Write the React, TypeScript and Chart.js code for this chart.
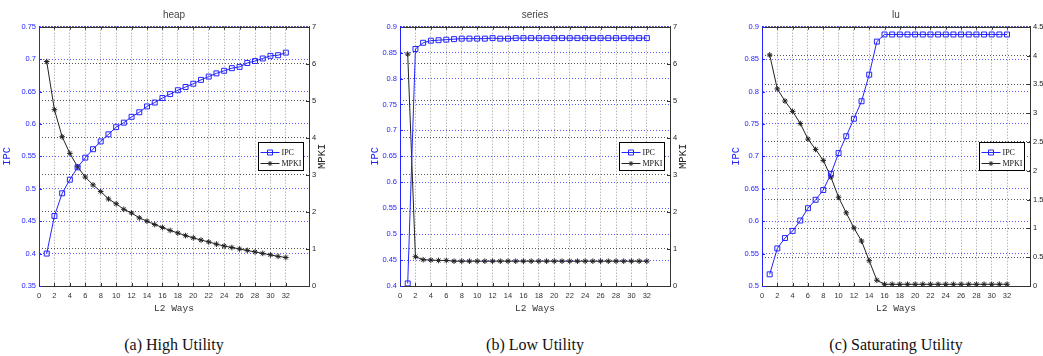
import React, { useEffect, useRef } from "react";
import { Chart, registerables } from "chart.js";
Chart.register(...registerables);

const ways = [1, 2, 3, 4, 5, 6, 7, 8, 9, 10, 11, 12, 13, 14, 15, 16, 17, 18, 19, 20, 21, 22, 23, 24, 25, 26, 27, 28, 29, 30, 31, 32];
const xTickValues = [0, 2, 4, 6, 8, 10, 12, 14, 16, 18, 20, 22, 24, 26, 28, 30, 32];

const heapIPC = [0.4, 0.458, 0.493, 0.514, 0.533, 0.548, 0.561, 0.573, 0.584, 0.595, 0.602, 0.611, 0.618, 0.627, 0.633, 0.64, 0.646, 0.652, 0.657, 0.662, 0.668, 0.673, 0.678, 0.682, 0.686, 0.688, 0.694, 0.697, 0.701, 0.705, 0.706, 0.71];
const heapMPKI = [6.06, 4.76, 4.03, 3.58, 3.22, 2.94, 2.73, 2.55, 2.35, 2.22, 2.07, 1.97, 1.84, 1.75, 1.66, 1.58, 1.5, 1.43, 1.36, 1.3, 1.24, 1.19, 1.13, 1.08, 1.04, 1.0, 0.96, 0.92, 0.88, 0.84, 0.8, 0.77];

const seriesIPC = [0.405, 0.857, 0.869, 0.873, 0.874, 0.875, 0.876, 0.877, 0.877, 0.877, 0.877, 0.878, 0.877, 0.877, 0.878, 0.878, 0.878, 0.878, 0.878, 0.878, 0.878, 0.878, 0.878, 0.878, 0.878, 0.878, 0.878, 0.878, 0.878, 0.878, 0.878, 0.878];
const seriesMPKI = [6.26, 0.79, 0.71, 0.7, 0.69, 0.69, 0.67, 0.67, 0.67, 0.67, 0.67, 0.67, 0.67, 0.67, 0.67, 0.67, 0.67, 0.67, 0.67, 0.67, 0.67, 0.67, 0.67, 0.67, 0.67, 0.67, 0.67, 0.67, 0.67, 0.67, 0.67, 0.67];

const luIPC = [0.518, 0.558, 0.574, 0.585, 0.601, 0.62, 0.633, 0.648, 0.673, 0.705, 0.731, 0.758, 0.785, 0.826, 0.877, 0.888, 0.888, 0.888, 0.888, 0.888, 0.888, 0.888, 0.888, 0.888, 0.888, 0.888, 0.888, 0.888, 0.888, 0.888, 0.888, 0.888];
const luMPKI = [4.01, 3.42, 3.21, 3.03, 2.82, 2.55, 2.37, 2.18, 1.89, 1.54, 1.27, 1.01, 0.78, 0.44, 0.1, 0.03, 0.03, 0.03, 0.03, 0.03, 0.03, 0.03, 0.03, 0.03, 0.03, 0.03, 0.03, 0.03, 0.03, 0.03, 0.03, 0.03];

const titles = ["heap", "series", "lu"];
const captions = ["(a) High Utility", "(b) Low Utility", "(c) Saturating Utility"];
const ipcRanges = [[0.35, 0.75, 0.05], [0.4, 0.9, 0.05], [0.5, 0.9, 0.05]];
const mpkiRanges = [[0, 7, 1], [0, 7, 1], [0, 4.5, 0.5]];

const BLUE = "#2424ff";
const BLACK = "#222222";
const CANVAS_H = 322;

const layouts = [
  { canvasLeft: 0, canvasWidth: 345, areaLeft: 39, areaRight: 309, ipcTitleX: 7 },
  { canvasLeft: 350, canvasWidth: 345, areaLeft: 50, areaRight: 320, ipcTitleX: 25 },
  { canvasLeft: 700, canvasWidth: 343, areaLeft: 62, areaRight: 330, ipcTitleX: 36 },
];

const fmt = (v: number) => String(Math.round(v * 1000) / 1000);

const decorPlugin = {
  id: "decor",
  afterDraw(chart: any, _args: any, opts: any) {
    const { ctx, chartArea } = chart;
    const { left, right, top, bottom } = chartArea;
    const xs = chart.scales.x;
    const ys = chart.scales.y;
    const y1 = chart.scales.y1;
    ctx.save();
    ctx.lineWidth = 1;
    // top border
    ctx.strokeStyle = "#333";
    ctx.beginPath();
    ctx.moveTo(left, Math.round(top) + 0.5);
    ctx.lineTo(right, Math.round(top) + 0.5);
    ctx.stroke();
    // inward tick marks
    ctx.beginPath();
    xs.ticks.forEach((t: any) => {
      const px = Math.round(xs.getPixelForValue(t.value)) + 0.5;
      ctx.moveTo(px, bottom);
      ctx.lineTo(px, bottom - 3);
      ctx.moveTo(px, top);
      ctx.lineTo(px, top + 3);
    });
    y1.ticks.forEach((t: any) => {
      const py = Math.round(y1.getPixelForValue(t.value)) + 0.5;
      ctx.moveTo(right, py);
      ctx.lineTo(right - 3, py);
    });
    ctx.stroke();
    ctx.strokeStyle = BLUE;
    ctx.beginPath();
    ys.ticks.forEach((t: any) => {
      const py = Math.round(ys.getPixelForValue(t.value)) + 0.5;
      ctx.moveTo(left, py);
      ctx.lineTo(left + 3, py);
    });
    ctx.stroke();
    // right axis title (reads bottom-to-top)
    const tx = right + 13;
    if (tx + 4 < chart.width) {
      ctx.save();
      ctx.translate(tx, (top + bottom) / 2);
      ctx.rotate(-Math.PI / 2);
      ctx.font = "10.5px 'Liberation Mono'";
      ctx.fillStyle = BLACK;
      ctx.textAlign = "center";
      ctx.textBaseline = "middle";
      ctx.fillText(opts.rightTitle, 0, 0);
      ctx.restore();
    }
    // legend box
    const bw = 45;
    const bh = 28;
    const bx = Math.round(right - 6 - bw) + 0.5;
    const by = Math.round((top + bottom) / 2 - bh / 2) + 0.5;
    ctx.fillStyle = "#fff";
    ctx.fillRect(bx, by, bw, bh);
    ctx.strokeStyle = "#000";
    ctx.strokeRect(bx, by, bw, bh);
    const rows = [by + 9, by + 20];
    chart.data.datasets.forEach((ds: any, i: number) => {
      const ry = Math.round(rows[i]) + 0.5;
      const color = ds.borderColor;
      ctx.strokeStyle = color;
      ctx.lineWidth = 1;
      ctx.beginPath();
      ctx.moveTo(bx + 2, ry);
      ctx.lineTo(bx + 21, ry);
      ctx.stroke();
      const mx = bx + 11.5;
      ctx.beginPath();
      if (ds.pointStyle === "rect") {
        ctx.rect(mx - 2.5, ry - 2.5, 5, 5);
      } else {
        const r = 2.5;
        ctx.moveTo(mx - r, ry); ctx.lineTo(mx + r, ry);
        ctx.moveTo(mx, ry - r); ctx.lineTo(mx, ry + r);
        ctx.moveTo(mx - r * 0.7, ry - r * 0.7); ctx.lineTo(mx + r * 0.7, ry + r * 0.7);
        ctx.moveTo(mx - r * 0.7, ry + r * 0.7); ctx.lineTo(mx + r * 0.7, ry - r * 0.7);
      }
      ctx.stroke();
      ctx.fillStyle = "#111";
      ctx.font = "8px 'Liberation Serif'";
      ctx.textAlign = "left";
      ctx.textBaseline = "middle";
      ctx.fillText(ds.label, bx + 23, ry);
    });
    ctx.restore();
  },
};

function Panel({ idx }: { idx: number }) {
  const ref = useRef<HTMLCanvasElement | null>(null);
  const L = layouts[idx];
  useEffect(() => {
    if (!ref.current) return;
    const ipc = [heapIPC, seriesIPC, luIPC][idx];
    const mpki = [heapMPKI, seriesMPKI, luMPKI][idx];
    const [iMin, iMax, iStep] = ipcRanges[idx];
    const [mMin, mMax, mStep] = mpkiRanges[idx];
    const tickFont = { family: "'Liberation Sans'", size: 7.5 };
    const chart = new Chart(ref.current, {
      type: "line",
      data: {
        datasets: [
          {
            label: "IPC",
            data: ways.map((w, i) => ({ x: w, y: ipc[i] })),
            yAxisID: "y",
            borderColor: BLUE,
            borderWidth: 1,
            pointStyle: "rect",
            pointRadius: 3.5,
            pointBorderColor: BLUE,
            pointBackgroundColor: "rgba(0,0,0,0)",
            pointBorderWidth: 1,
            tension: 0,
          },
          {
            label: "MPKI",
            data: ways.map((w, i) => ({ x: w, y: mpki[i] })),
            yAxisID: "y1",
            borderColor: BLACK,
            borderWidth: 1,
            pointStyle: "star",
            pointRadius: 2.8,
            pointBorderColor: BLACK,
            pointBorderWidth: 1,
            tension: 0,
          },
        ],
      } as any,
      options: {
        animation: false,
        responsive: false,
        events: [],
        layout: { padding: 0 },
        plugins: {
          legend: { display: false },
          tooltip: { enabled: false },
          title: {
            display: true,
            text: titles[idx],
            fullSize: false,
            color: "#444",
            font: { family: "'Liberation Sans'", size: 10, weight: "normal" },
            padding: { top: 9, bottom: 5.7 },
          },
          decor: { rightTitle: "MPKI" },
        } as any,
        scales: {
          x: {
            type: "linear",
            min: 0,
            max: 35,
            afterBuildTicks: (s: any) => {
              s.ticks = xTickValues.map((v) => ({ value: v }));
            },
            afterFit: (s: any) => {
              s.height = CANVAS_H - 286;
            },
            ticks: { color: "#333", font: tickFont, padding: 5, autoSkip: false, maxRotation: 0, callback: (v: any) => fmt(Number(v)) },
            grid: { color: "rgba(110,110,110,0.7)", drawTicks: false, lineWidth: 1 },
            border: { color: "#333", dash: [1, 2] },
            title: {
              display: true,
              text: "L2 Ways",
              color: "#333",
              font: { family: "'Liberation Mono'", size: 9.5 },
              padding: { top: 0, bottom: 8 },
            },
          },
          y: {
            type: "linear",
            position: "left",
            min: iMin,
            max: iMax,
            afterFit: (s: any) => {
              s.width = L.areaLeft;
            },
            ticks: { stepSize: iStep, color: BLUE, font: tickFont, padding: 3, callback: (v: any) => fmt(Number(v)) },
            grid: { color: "rgba(60,60,255,0.85)", drawTicks: false, lineWidth: 1 },
            border: { color: BLUE, dash: [1, 2] },
            title: {
              display: true,
              text: "IPC",
              color: BLUE,
              font: { family: "'Liberation Mono'", size: 10.5 },
              padding: { top: Math.max(0, L.ipcTitleX - 6.3), bottom: 0 },
            },
          },
          y1: {
            type: "linear",
            position: "right",
            min: mMin,
            max: mMax,
            afterFit: (s: any) => {
              s.width = L.canvasWidth - L.areaRight;
            },
            ticks: { stepSize: mStep, color: "#222", font: tickFont, padding: 3, callback: (v: any) => fmt(Number(v)) },
            grid: { color: "rgba(40,40,40,0.8)", drawTicks: false, lineWidth: 1, drawOnChartArea: true },
            border: { color: "#333", dash: [1, 2] },
          },
        },
      } as any,
      plugins: [decorPlugin as any],
    });
    return () => chart.destroy();
  }, [idx]);
  return (
    <>
      <canvas
        ref={ref}
        width={L.canvasWidth}
        height={CANVAS_H}
        style={{ position: "absolute", left: L.canvasLeft, top: 0, width: L.canvasWidth, height: CANVAS_H }}
      />
      <div
        style={{
          position: "absolute",
          left: L.canvasLeft + L.areaLeft,
          width: L.areaRight - L.areaLeft,
          top: 336,
          textAlign: "center",
          fontFamily: "'Liberation Serif'",
          fontSize: 16,
          lineHeight: "18px",
          color: "#111",
        }}
      >
        {captions[idx]}
      </div>
    </>
  );
}

export default function App() {
  return (
    <div style={{ position: "absolute", left: 0, top: 0, width: 1043, height: 356, background: "#fff", overflow: "hidden" }}>
      <Panel idx={0} />
      <Panel idx={1} />
      <Panel idx={2} />
    </div>
  );
}
